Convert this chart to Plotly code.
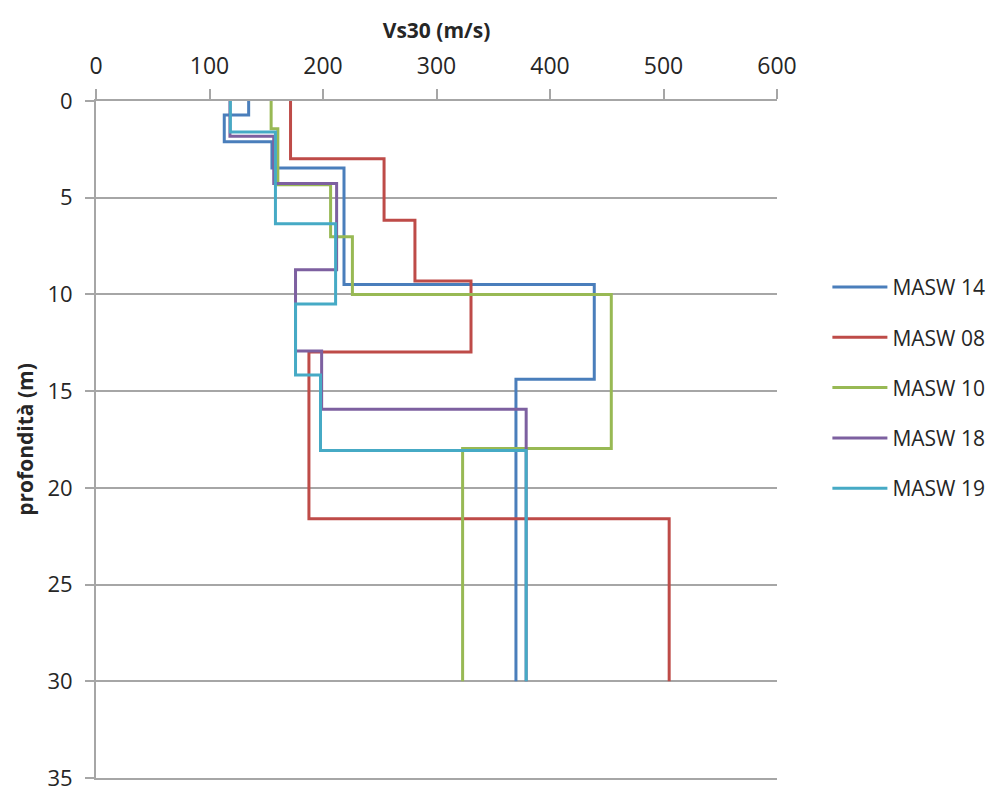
import plotly.graph_objects as go

# Shear-wave velocity profiles: one velocity per layer, layer boundaries in metres
series_names = ["MASW 14", "MASW 08", "MASW 10", "MASW 18", "MASW 19"]

vs_masw14 = [134.5, 113, 155, 218.5, 439, 370]
depth_masw14 = [0, 0.72, 2.11, 3.47, 9.49, 14.38, 30]

vs_masw08 = [171.4, 253.8, 281, 330.4, 187.6, 505]
depth_masw08 = [0, 2.98, 6.17, 9.31, 12.97, 21.6, 30]

vs_masw10 = [154.3, 160.2, 206.7, 225.9, 454, 323]
depth_masw10 = [0, 1.43, 4.33, 7.02, 10.0, 17.97, 30]

vs_masw18 = [118, 156.6, 212, 175.8, 198.8, 379]
depth_masw18 = [0, 1.82, 4.26, 8.72, 12.92, 15.93, 30]

vs_masw19 = [118.4, 158.1, 211.1, 175.8, 197.8, 379]
depth_masw19 = [0, 1.6, 6.34, 10.5, 14.17, 18.07, 30]

x_ticks = [0, 100, 200, 300, 400, 500, 600]
y_ticks = [0, 5, 10, 15, 20, 25, 30, 35]

colors = ["#4A7EBB", "#BE4B48", "#98B954", "#7D60A0", "#46AAC5"]

profiles = [
    (vs_masw14, depth_masw14),
    (vs_masw08, depth_masw08),
    (vs_masw10, depth_masw10),
    (vs_masw18, depth_masw18),
    (vs_masw19, depth_masw19),
]


def step_path(vs, depths):
    """Vertices of a layered profile: each layer is a vertical segment."""
    xs, ys = [], []
    for i, v in enumerate(vs):
        xs += [v, v]
        ys += [depths[i], depths[i + 1]]
    return xs, ys


fig = go.Figure()
for i, (name, (vs, depths)) in enumerate(zip(series_names, profiles)):
    xs, ys = step_path(vs, depths)
    fig.add_trace(go.Scatter(
        x=xs, y=ys, mode="lines", name=name,
        legendgroup=name,
        line=dict(color=colors[i], width=3),
    ))

axis_gray = "#A6A6A6"
font_main = "Open Sans, Noto Sans, sans-serif"

fig.update_layout(
    width=995, height=794,
    margin=dict(l=96, r=218, t=101, b=16, autoexpand=False),
    paper_bgcolor="white", plot_bgcolor="white",
    font=dict(family=font_main, size=23, color="#262626"),
    showlegend=True,
    legend=dict(
        x=1.074, y=0.755, xanchor="left", yanchor="top",
        font=dict(size=21, color="#262626"),
        traceorder="grouped", tracegroupgap=20,
        itemwidth=55,
        bgcolor="rgba(0,0,0,0)",
    ),
    xaxis=dict(
        side="top", range=[0, 600], tickvals=x_ticks,
        ticks="outside", ticklen=10, tickcolor=axis_gray, tickwidth=1.5,
        showline=True, linecolor=axis_gray, linewidth=2, mirror=True,
        showgrid=False, zeroline=False,
        ticklabelstandoff=6,
        title=dict(text="<b>Vs30 (m/s)</b>", font=dict(size=21), standoff=4),
    ),
    yaxis=dict(
        range=[35, 0], tickvals=y_ticks,
        ticks="outside", ticklen=9, tickcolor=axis_gray, tickwidth=1.5,
        showline=True, linecolor=axis_gray, linewidth=2,
        showgrid=True, gridcolor=axis_gray, gridwidth=2,
        zeroline=False,
        tickfont=dict(size=22),
        ticklabelstandoff=8, ticklabeloverflow="allow",
        title=dict(text="<b>profondità (m)</b>", font=dict(size=21), standoff=8),
    ),
)

fig.write_html("out.html")
